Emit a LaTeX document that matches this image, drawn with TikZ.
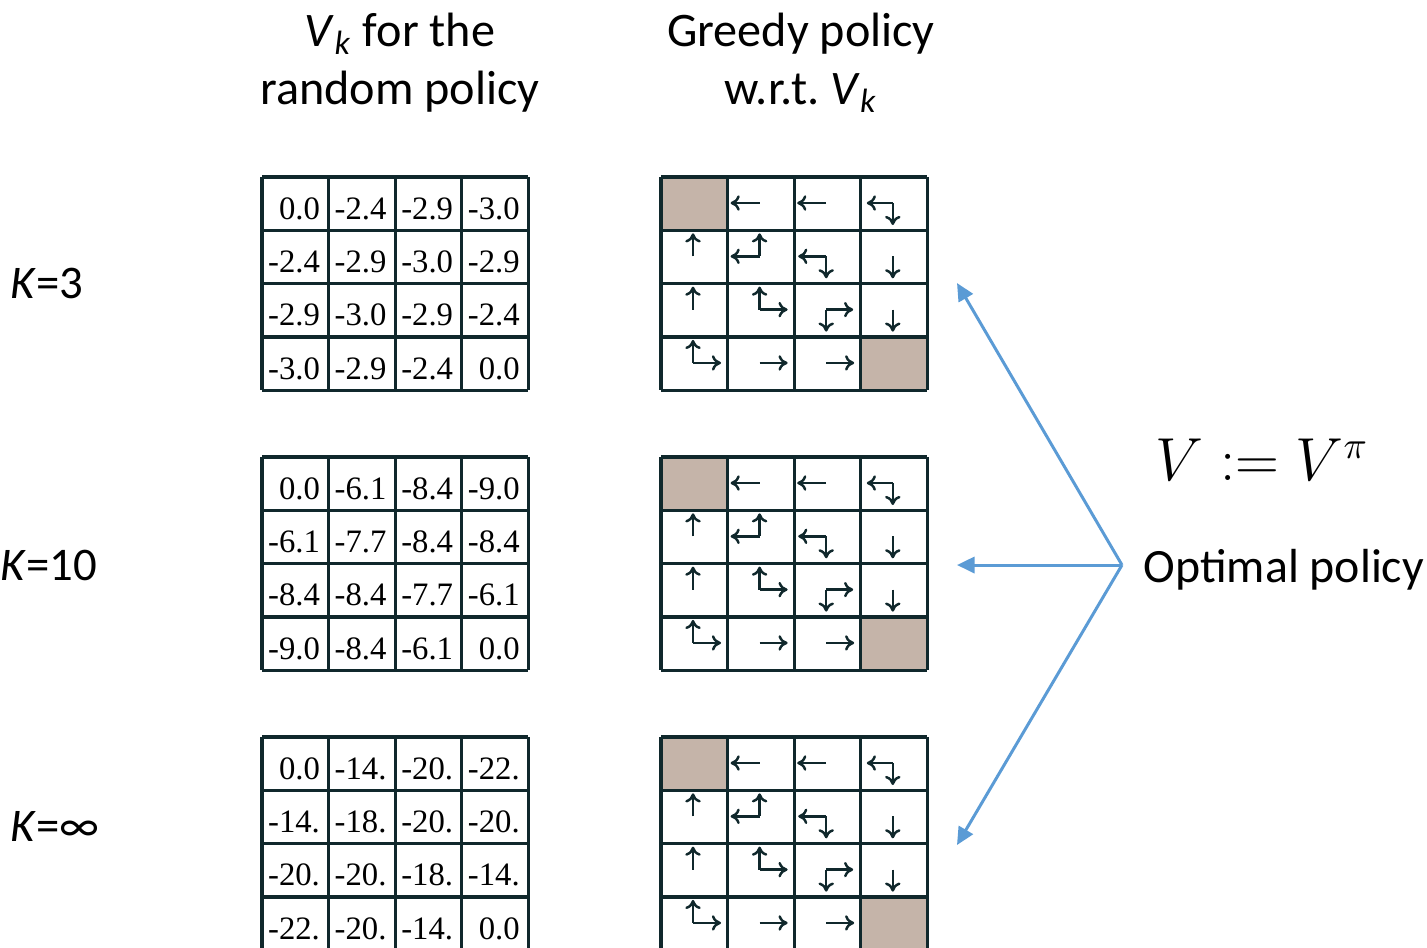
\documentclass[tikz,border=0pt]{standalone}
\usepackage{fontspec}
\setmainfont{Carlito}
\newfontfamily\numfont{Liberation Serif}
\usetikzlibrary{arrows.meta, positioning}

\definecolor{gridink}{HTML}{10282C}
\definecolor{goalfill}{HTML}{C5B4A9}
\definecolor{linkblue}{HTML}{5B9BD5}

\tikzset{
    cellline/.style={draw=gridink, line width=0.9pt},
    valtxt/.style={anchor=base east, inner sep=0pt, font=\numfont\fontsize{9.3}{10}\selectfont},
    move/.style={draw=gridink, line width=0.7pt, -{To[length=2.6pt, width=4.4pt]}},
    title/.style={align=center, font=\fontsize{13.7}{16.5}\selectfont},
    klabel/.style={anchor=west, inner sep=0pt, font=\fontsize{13.3}{16}\selectfont},
    link/.style={draw=linkblue, line width=0.85pt, -{Triangle[length=5pt, width=4.6pt]}}
}

\newcommand{\cellgrid}[2]{
    \foreach \i in {0,...,4} {
        \draw[cellline] ({#1+66.6*\i}, #2) -- ({#1+66.6*\i}, {#2+213.2});
        \draw[cellline] (#1, {#2+53.3*\i}) -- ({#1+266.4}, {#2+53.3*\i});
    }
}

\newcommand{\valgrid}[3]{
    \foreach \row [count=\r from 0] in {#3} {
        \foreach \v [count=\c from 0] in \row {
            \node[valtxt] (#1-\r-\c) at ({262+66.6*\c+58.6}, {#2+53.3*\r+42.3}) {\v};
        }
    }
    \cellgrid{262}{#2}
}

\newcommand{\policygrid}[1]{
    \fill[goalfill] (661, #1) rectangle ++(66.6, 53.3);
    \fill[goalfill] (860.8, {#1+159.9}) rectangle ++(66.6, 53.3);
    \foreach \c/\r/\dirs in {1/0/{180:29}, 2/0/{180:29}, 3/0/{180:26, 90:22},
                             0/1/{270:23}, 1/1/{180:29, 270:23}, 2/1/{180:28, 90:22}, 3/1/{90:22},
                             0/2/{270:23}, 1/2/{270:23, 0:28}, 2/2/{0:27, 90:22}, 3/2/{90:22},
                             0/3/{270:23, 0:28}, 1/3/{0:28}, 2/3/{0:28}} {
        \foreach \d in \dirs {
            \draw[move] ({661+66.6*\c+32}, {#1+53.3*\r+26}) -- ++(\d);
        }
    }
    \cellgrid{661}{#1}
}

\begin{document}
\begin{tikzpicture}[x=0.01cm, y=-0.01cm]
    \useasboundingbox (0, 0) rectangle (1427, 947);
    \clip (0, 0) rectangle (1427, 947);

    \node[title] (vtitle) at (400, 63) {\textit{V}\textsubscript{\textit{k}} for the\\random policy};
    \node[title] (gtitle) at (801, 63) {Greedy policy\\w.r.t.\ \textit{V}\textsubscript{\textit{k}}};

    \node[klabel] (k3) at (10, 283) {\textit{K}=3};
    \node[klabel] (k10) at (0, 565) {\textit{K}=10};
    \node[klabel] (kinf) at (10, 826) {\textit{K}=∞};

    \valgrid{va}{177}{{0.0,-2.4,-2.9,-3.0},{-2.4,-2.9,-3.0,-2.9},{-2.9,-3.0,-2.9,-2.4},{-3.0,-2.9,-2.4,0.0}}
    \valgrid{vb}{457}{{0.0,-6.1,-8.4,-9.0},{-6.1,-7.7,-8.4,-8.4},{-8.4,-8.4,-7.7,-6.1},{-9.0,-8.4,-6.1,0.0}}
    \valgrid{vc}{737}{{0.0,-14.,-20.,-22.},{-14.,-18.,-20.,-20.},{-20.,-20.,-18.,-14.},{-22.,-20.,-14.,0.0}}

    \policygrid{177}
    \policygrid{457}
    \policygrid{737}

    \node[inner sep=0pt, font=\fontsize{16}{20}\selectfont] (vdef) at (1262, 460) {$V := V^{\pi}$};
    \node[anchor=base west, inner sep=0pt, font=\fontsize{13.6}{16}\selectfont] (opt) at (1143, 582) {Optimal policy};

    \coordinate (hub) at (1122, 565);
    \coordinate (toA) at (957, 283);
    \coordinate (toB) at (957, 565);
    \coordinate (toC) at (957, 845);
    \draw[link] (hub) -- (toA);
    \draw[link] (hub) -- (toB);
    \draw[link] (hub) -- (toC);
\end{tikzpicture}
\end{document}
